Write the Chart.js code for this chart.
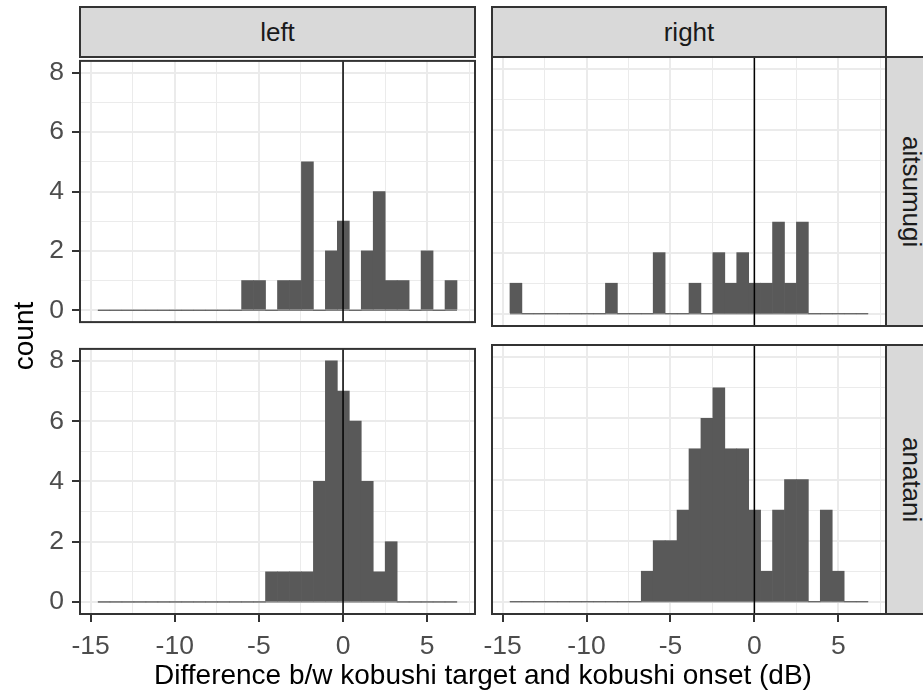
<!DOCTYPE html>
<html>
<head>
<meta charset="utf-8">
<script src="https://cdn.jsdelivr.net/npm/chart.js@4.4.0/dist/chart.umd.min.js"></script>
<style>
html,body{margin:0;padding:0;background:#fff;}
body{width:923px;height:694px;overflow:hidden;position:relative;font-family:"Liberation Sans",Arial,sans-serif;}
canvas{position:absolute;}
.strip{position:absolute;box-sizing:border-box;background:#D9D9D9;border:2px solid #333333;color:#1A1A1A;font-size:26px;display:flex;align-items:center;justify-content:center;}
.vtext{writing-mode:vertical-rl;}
.ytitle{position:absolute;width:200px;height:28px;line-height:28px;font-size:28px;text-align:center;color:#000;left:-76.4px;top:321.5px;transform:rotate(-90deg);}
.xtitle{position:absolute;left:80px;width:806px;top:661px;height:28px;line-height:28px;font-size:28px;text-align:center;color:#000;white-space:nowrap;}
</style>
</head>
<body>
<canvas id="c00"></canvas>
<canvas id="c01"></canvas>
<canvas id="c10"></canvas>
<canvas id="c11"></canvas>
<div class="strip" id="sLeft" style="left:79px;top:6px;width:397px;height:52px;"></div>
<div class="strip" id="sRight" style="left:491px;top:6px;width:396px;height:52px;"></div>
<div class="strip" id="sRow0" style="left:885px;top:56px;width:52px;height:271px;"><span class="vtext"></span></div>
<div class="strip" id="sRow1" style="left:885px;top:344px;width:52px;height:271px;"><span class="vtext"></span></div>
<div class="ytitle" id="yTitle"></div>
<div class="xtitle" id="xTitle"></div>
<script>
// ---- data ----
const colLabels = ["left", "right"];
const rowLabels = ["aitsumugi", "anatani"];
const xTitle = "Difference b/w kobushi target and kobushi onset (dB)";
const yTitle = "count";
const binCenters = [-14.2045, -13.4935, -12.7825, -12.0715, -11.3605, -10.6495, -9.9385, -9.2275, -8.5165, -7.8055,
  -7.0945, -6.3835, -5.6725, -4.9615, -4.2505, -3.5395, -2.8285, -2.1175, -1.4065, -0.6955,
  0.0155, 0.7265, 1.4375, 2.1485, 2.8595, 3.5705, 4.2815, 4.9925, 5.7035, 6.4145];
const countsAitsumugiLeft  = [0,0,0,0,0,0,0,0,0,0,0,0,1,1,0,1,1,5,0,2,3,0,2,4,1,1,0,2,0,1];
const countsAitsumugiRight = [1,0,0,0,0,0,0,0,1,0,0,0,2,0,0,1,0,2,1,2,1,1,3,1,3,0,0,0,0,0];
const countsAnataniLeft    = [0,0,0,0,0,0,0,0,0,0,0,0,0,0,1,1,1,1,4,8,7,6,4,1,2,0,0,0,0,0];
const countsAnataniRight   = [0,0,0,0,0,0,0,0,0,0,0,1,2,2,3,5,6,7,5,5,3,1,3,4,4,0,3,1,0,0];
const xMajorTicks = [-15, -10, -5, 0, 5];
const xMinorTicks = [-12.5, -7.5, -2.5, 2.5, 7.5];
const yMajorTicks = [0, 2, 4, 6, 8];
const yMinorTicks = [1, 3, 5, 7];
const xRange = [-15.63, 7.84];
const yRange = [-0.4, 8.4];
const refLine = 0;

// ---- text ----
document.getElementById('sLeft').textContent = colLabels[0];
document.getElementById('sRight').textContent = colLabels[1];
document.querySelector('#sRow0 span').textContent = rowLabels[0];
document.querySelector('#sRow1 span').textContent = rowLabels[1];
document.getElementById('yTitle').textContent = yTitle;
document.getElementById('xTitle').textContent = xTitle;

// ---- layout ----
const Y_W = 80, PAD_T = 20, PAD_R = 25, X_H = 80;
const FONT = "'Liberation Sans', Arial, sans-serif";

const panelDecor = {
  id: 'panelDecor',
  afterDatasetsDraw(chart) {
    const {ctx, chartArea: a, scales} = chart;
    ctx.save();
    const px = scales.x.getPixelForValue(refLine);
    ctx.strokeStyle = '#000000';
    ctx.lineWidth = 1.5;
    ctx.beginPath();
    ctx.moveTo(px, a.top);
    ctx.lineTo(px, a.bottom);
    ctx.stroke();
    ctx.strokeStyle = '#333333';
    ctx.lineWidth = 2;
    ctx.strokeRect(a.left, a.top, a.right - a.left, a.bottom - a.top);
    ctx.restore();
  }
};

function makePanel(id, counts, canvasLeft, canvasTop, areaW, areaH, showX, showY) {
  const cv = document.getElementById(id);
  const w = Y_W + areaW + PAD_R;
  const h = PAD_T + areaH + (showX ? X_H : PAD_T);
  cv.width = w; cv.height = h;
  cv.style.left = canvasLeft + 'px';
  cv.style.top = canvasTop + 'px';
  cv.style.width = w + 'px';
  cv.style.height = h + 'px';
  const allX = xMajorTicks.concat(xMinorTicks).sort((a, b) => a - b);
  const allY = yMajorTicks.concat(yMinorTicks).sort((a, b) => a - b);
  const first = binCenters[0] - (binCenters[1] - binCenters[0]) / 2;
  const last = binCenters[binCenters.length - 1] + (binCenters[1] - binCenters[0]) / 2;
  new Chart(cv, {
    type: 'bar',
    data: {
      datasets: [
        {
          type: 'bar',
          data: binCenters.map((c, i) => ({x: c, y: counts[i]})),
          backgroundColor: '#595959',
          borderWidth: 0,
          barPercentage: 1,
          categoryPercentage: 1,
        },
        {
          type: 'line',
          data: [{x: first, y: 0}, {x: last, y: 0}],
          borderColor: '#595959',
          borderWidth: 1,
          pointRadius: 0,
          fill: false,
        }
      ]
    },
    options: {
      responsive: false,
      animation: false,
      devicePixelRatio: 1,
      layout: {padding: {top: PAD_T, right: PAD_R, bottom: showX ? 0 : PAD_T, left: 0}},
      plugins: {legend: {display: false}, tooltip: {enabled: false}},
      scales: {
        x: {
          type: 'linear',
          min: xRange[0], max: xRange[1],
          offset: false,
          border: {display: false},
          grid: {
            offset: false,
            color: '#EBEBEB',
            lineWidth: c => xMajorTicks.includes(c.tick.value) ? 2 : 1,
            tickColor: c => xMajorTicks.includes(c.tick.value) ? '#333333' : 'rgba(0,0,0,0)',
            tickLength: 8,
            tickWidth: 2,
            drawTicks: showX,
          },
          ticks: {
            display: showX,
            autoSkip: false,
            maxRotation: 0,
            padding: 9,
            color: '#4D4D4D',
            font: {family: FONT, size: 26.5},
            callback: v => xMajorTicks.includes(v) ? String(v) : '',
          },
          afterBuildTicks: s => { s.ticks = allX.map(v => ({value: v})); },
          afterFit: s => { s.height = showX ? X_H : 0; },
        },
        y: {
          type: 'linear',
          min: yRange[0], max: yRange[1],
          border: {display: false},
          grid: {
            color: '#EBEBEB',
            lineWidth: c => yMajorTicks.includes(c.tick.value) ? 2 : 1,
            tickColor: c => yMajorTicks.includes(c.tick.value) ? '#333333' : 'rgba(0,0,0,0)',
            tickLength: 8,
            tickWidth: 2,
            drawTicks: showY,
          },
          ticks: {
            display: showY,
            autoSkip: false,
            padding: 8,
            color: '#4D4D4D',
            font: {family: FONT, size: 26.5},
            callback: v => yMajorTicks.includes(v) ? String(v) : '',
          },
          afterBuildTicks: s => { s.ticks = allY.map(v => ({value: v})); },
          afterFit: s => { s.width = Y_W; },
        }
      }
    },
    plugins: [panelDecor]
  });
}

// panels: chart areas col0 x 80-475, col1 x 492-886; row0 y 57-326, row1 y 345-614
makePanel('c00', countsAitsumugiLeft, 0, 57 - PAD_T, 395, 269, false, true);
makePanel('c01', countsAitsumugiRight, 412, 57 - PAD_T, 394, 269, false, false);
makePanel('c10', countsAnataniLeft, 0, 345 - PAD_T, 395, 269, true, true);
makePanel('c11', countsAnataniRight, 412, 345 - PAD_T, 394, 269, true, false);
</script>
</body>
</html>
